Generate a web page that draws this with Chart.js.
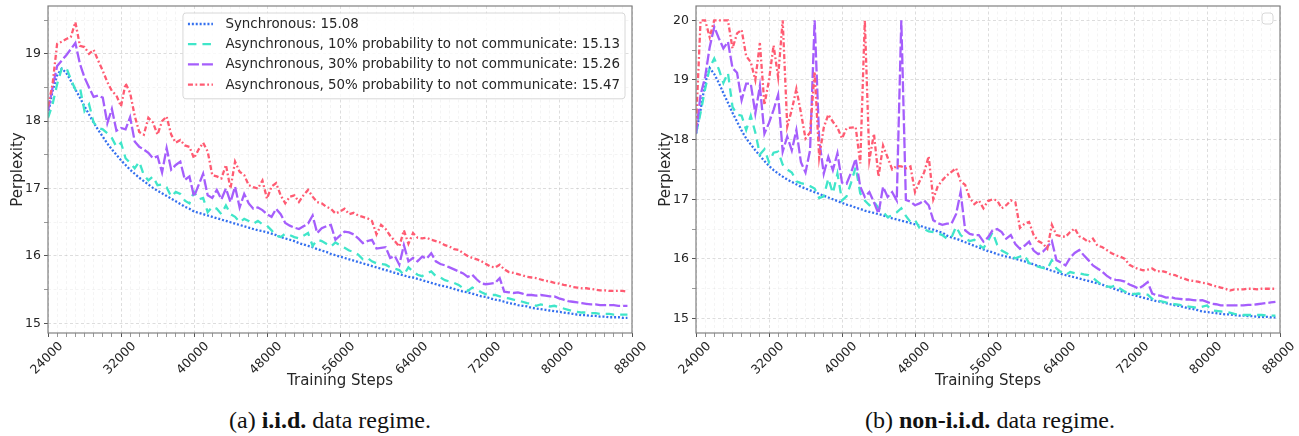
<!DOCTYPE html>
<html><head><meta charset="utf-8">
<script src="https://cdn.jsdelivr.net/npm/chart.js@4.4.1/dist/chart.umd.min.js"></script>
<style>
html,body{margin:0;padding:0;background:#fff;width:1299px;height:436px;overflow:hidden}
.box{position:absolute;top:0;width:650px;height:400px}
.cap{position:absolute;top:405px;font-family:"Liberation Serif","Times New Roman",serif;font-size:24px;color:#111;transform:translateX(-50%);white-space:nowrap;line-height:31px}
</style></head><body>
<div class="box" style="left:0"><canvas id="c1" width="650" height="400"></canvas></div>
<div class="box" style="left:648px"><canvas id="c2" width="650" height="400"></canvas></div>
<div class="cap" style="left:330px">(a) <b>i.i.d.</b> data regime.</div>
<div class="cap" style="left:990px">(b) <b>non-i.i.d.</b> data regime.</div>
<script>
// ---- categories (training steps, every 500 steps from 24000 to 87500) ----
const steps = Array.from({length:128}, (_, i) => 24000 + 500 * i);
const xMajorTicks = [24000, 32000, 40000, 48000, 56000, 64000, 72000, 80000, 88000];
const yMajorTicksLeft = [15, 16, 17, 18, 19];
const yMajorTicksRight = [15, 16, 17, 18, 19, 20];
const seriesNames = ['Synchronous', 'Asynchronous, 10% probability to not communicate',
  'Asynchronous, 30% probability to not communicate', 'Asynchronous, 50% probability to not communicate'];
const finalScores = ['15.08', '15.13', '15.26', '15.47'];

// ---- (a) i.i.d. ----
const iidSync = [18.10,18.45,18.68,18.78,18.72,18.60,18.47,18.35, 18.22,18.10,17.98,17.87,17.77,17.67,17.58,17.50,
 17.42,17.35,17.28,17.22,17.16,17.11,17.06,17.01, 16.97,16.93,16.89,16.85,16.81,16.77,16.73,16.70,
 16.66,16.64,16.62,16.60,16.58,16.56,16.54,16.52, 16.50,16.48,16.46,16.44,16.42,16.40,16.38,16.37,
 16.35,16.33,16.31,16.28,16.26,16.24,16.22,16.19, 16.17,16.15,16.13,16.10,16.08,16.06,16.03,16.01,
 15.99,15.97,15.95,15.93,15.91,15.89,15.87,15.85, 15.83,15.81,15.79,15.77,15.75,15.73,15.71,15.69,
 15.68,15.66,15.64,15.62,15.60,15.58,15.56,15.55, 15.53,15.51,15.49,15.47,15.46,15.44,15.42,15.40,
 15.39,15.37,15.35,15.34,15.32,15.30,15.29,15.27, 15.26,15.25,15.23,15.22,15.21,15.20,15.19,15.18,
 15.17,15.16,15.15,15.14,15.13,15.12,15.12,15.11, 15.11,15.10,15.10,15.09,15.09,15.09,15.08,15.08];
const iidAsync10 = [18.05,18.25,18.55,18.78,18.80,18.62,18.47,18.50, 18.15,18.25,17.98,17.90,17.88,17.82,17.75,17.62,
 17.68,17.45,17.38,17.30,17.40,17.20,17.12,17.18, 17.05,17.06,17.02,16.88,16.95,16.92,16.82,16.78,
 16.95,16.84,16.86,16.65,16.73,16.70,16.62,16.75, 16.62,16.58,16.50,16.55,16.52,16.48,16.52,16.47,
 16.45,16.38,16.30,16.28,16.33,16.31,16.28,16.26, 16.30,16.34,16.15,16.24,16.22,16.18,16.14,16.20,
 16.16,16.12,16.08,16.06,16.02,15.95,15.97,15.92, 15.89,15.88,15.87,15.83,15.81,15.79,15.72,15.83,
 15.77,15.72,15.70,15.74,15.77,15.70,15.68,15.64, 15.62,15.60,15.57,15.52,15.48,15.53,15.50,15.46,
 15.43,15.42,15.42,15.40,15.38,15.37,15.35,15.34, 15.32,15.30,15.29,15.26,15.28,15.27,15.25,15.26,
 15.24,15.22,15.20,15.18,15.17,15.16,15.16,15.15, 15.15,15.14,15.14,15.14,15.13,15.13,15.13,15.13];
const iidAsync30 = [18.15,18.50,18.82,18.90,18.98,19.07,19.16,18.85, 18.65,18.50,18.36,18.38,18.35,17.97,18.18,17.86,
 17.90,17.88,18.06,17.70,17.62,17.58,17.53,17.45, 17.48,17.24,17.60,17.28,17.35,17.40,17.13,17.18,
 16.88,17.05,17.22,16.90,16.86,16.98,16.84,17.00, 16.80,17.03,16.72,16.92,16.78,16.70,16.72,16.68,
 16.62,16.58,16.70,16.62,16.49,16.45,16.42,16.40, 16.44,16.48,16.60,16.34,16.41,16.44,16.46,16.24,
 16.30,16.36,16.35,16.32,16.26,16.19,16.22,16.24, 16.11,16.12,16.13,15.97,16.00,15.87,16.16,15.92,
 15.97,15.92,15.99,15.96,16.04,15.92,15.88,15.86, 15.83,15.80,15.77,15.74,15.69,15.72,15.65,15.59,
 15.58,15.59,15.60,15.67,15.47,15.46,15.45,15.46, 15.44,15.42,15.42,15.41,15.42,15.41,15.40,15.40,
 15.37,15.35,15.33,15.32,15.31,15.30,15.29,15.28, 15.28,15.27,15.27,15.27,15.27,15.26,15.26,15.26];
const iidAsync50 = [18.22,18.55,19.15,19.18,19.22,19.25,19.47,19.12, 19.10,19.00,19.06,18.90,18.75,18.58,18.45,18.38,
 18.22,18.56,18.42,18.08,17.84,17.80,18.05,17.98, 17.80,18.00,18.07,17.80,17.68,17.72,17.64,17.62,
 17.45,17.58,17.68,17.55,17.20,17.18,17.15,17.35, 17.00,17.40,17.25,17.20,17.05,17.02,17.00,17.12,
 16.85,17.03,17.08,16.90,16.78,16.88,16.90,16.80, 16.90,16.98,16.88,16.80,16.78,16.73,16.70,16.63,
 16.66,16.70,16.62,16.64,16.60,16.58,16.56,16.52, 16.32,16.46,16.40,16.30,16.22,16.14,16.38,16.18,
 16.34,16.27,16.26,16.27,16.24,16.22,16.20,16.16, 16.14,16.10,16.09,16.04,16.00,15.97,15.95,15.92,
 15.88,15.84,15.83,15.87,15.80,15.76,15.75,15.73, 15.71,15.69,15.68,15.67,15.65,15.63,15.62,15.60,
 15.59,15.57,15.56,15.54,15.53,15.52,15.52,15.51, 15.50,15.49,15.49,15.48,15.48,15.48,15.48,15.47];

// ---- (b) non-i.i.d. ----
const nonIidSync = [18.10,18.50,18.95,19.20,19.10,18.95,18.78,18.62, 18.45,18.30,18.15,18.02,17.92,17.82,17.73,17.64,
 17.56,17.49,17.43,17.38,17.33,17.29,17.25,17.21, 17.18,17.15,17.12,17.09,17.06,17.03,17.00,16.97,
 16.94,16.91,16.89,16.86,16.84,16.81,16.79,16.77, 16.75,16.73,16.70,16.68,16.66,16.64,16.62,16.60,
 16.58,16.56,16.53,16.51,16.49,16.46,16.44,16.39, 16.36,16.34,16.31,16.28,16.25,16.22,16.19,16.16,
 16.13,16.11,16.08,16.06,16.04,16.02,16.00,15.98, 15.96,15.93,15.91,15.88,15.86,15.83,15.80,15.78,
 15.75,15.73,15.71,15.69,15.67,15.65,15.63,15.61, 15.59,15.57,15.54,15.52,15.49,15.46,15.44,15.41,
 15.39,15.37,15.35,15.33,15.31,15.29,15.28,15.26, 15.24,15.22,15.21,15.19,15.17,15.16,15.14,15.12,
 15.11,15.10,15.09,15.08,15.07,15.07,15.06,15.05, 15.05,15.04,15.04,15.03,15.03,15.03,15.02,15.02];
const nonIidAsync10 = [18.10,18.45,18.85,19.20,19.36,19.18,18.95,19.12, 18.55,18.42,18.40,18.16,18.40,18.12,17.75,17.84,
 17.62,17.78,17.80,17.58,17.50,17.45,17.30,17.27, 17.25,17.22,17.18,17.02,17.05,17.35,17.10,17.43,
 16.98,17.05,17.28,17.54,17.10,16.98,16.90,16.96, 16.85,16.79,16.70,16.73,16.78,16.85,16.72,16.62,
 16.65,16.52,16.50,16.46,16.45,16.43,16.40,16.34, 16.36,16.54,16.40,16.34,16.30,16.32,16.24,16.18,
 16.30,16.45,16.24,16.14,16.10,16.05,16.01,16.04, 16.06,15.93,15.90,15.87,15.85,15.83,15.98,15.84,
 15.78,15.73,15.78,15.76,15.76,15.74,15.73,15.68, 15.62,15.56,15.54,15.53,15.56,15.50,15.45,15.43,
 15.41,15.42,15.41,15.40,15.33,15.30,15.29,15.27, 15.26,15.24,15.23,15.21,15.20,15.19,15.18,15.20,
 15.22,15.14,15.13,15.12,15.11,15.10,15.08,15.07, 15.06,15.06,15.06,15.06,15.06,15.05,15.05,15.05];
const nonIidAsync30 = [18.10,18.75,19.05,19.55,19.89,19.70,19.53,19.64, 19.20,19.12,18.66,18.94,18.94,18.44,18.90,18.10,
 18.28,18.50,18.75,17.80,18.05,17.82,18.16,17.62, 17.45,17.82,20.00,18.00,17.43,17.71,17.49,17.77,
 17.28,17.26,17.45,17.68,17.21,17.04,17.12,16.95, 16.76,17.21,17.04,17.12,16.98,20.00,16.99,16.96,
 16.90,16.93,16.98,16.90,16.65,16.60,16.57,16.59, 16.59,16.75,17.12,16.48,16.42,16.40,16.40,16.29,
 16.36,16.48,16.50,16.45,16.34,16.40,16.25,16.17, 16.22,16.29,16.14,16.08,16.12,16.20,16.30,15.98,
 15.94,15.89,16.02,16.10,16.15,16.06,15.98,15.89, 15.84,15.79,15.72,15.67,15.65,15.64,15.62,15.57,
 15.54,15.50,15.55,15.61,15.42,15.39,15.38,15.35, 15.36,15.34,15.33,15.32,15.32,15.31,15.30,15.31,
 15.28,15.25,15.24,15.22,15.22,15.22,15.22,15.22, 15.22,15.23,15.23,15.24,15.25,15.26,15.27,15.28];
const nonIidAsync50 = [18.24,20.00,20.00,19.72,20.00,20.00,20.00,20.00, 19.53,19.78,19.84,19.40,19.30,19.00,19.62,18.58,
 19.00,19.58,19.05,20.00,18.22,18.50,18.85,18.45, 18.02,18.12,19.14,17.70,18.20,18.42,18.30,18.20,
 18.02,18.19,18.20,18.21,17.60,20.00,17.66,18.10, 17.38,17.90,17.70,17.50,17.56,17.55,17.52,17.55,
 17.12,17.30,17.45,17.72,17.00,17.22,17.32,17.40, 17.46,17.52,17.30,17.24,17.02,16.92,16.98,16.85,
 16.97,17.00,16.98,16.85,16.90,16.98,16.95,16.52, 16.59,16.62,16.40,16.30,16.26,16.17,16.57,16.40,
 16.38,16.37,16.45,16.51,16.38,16.34,16.28,16.34, 16.22,16.20,16.15,16.10,16.06,16.04,16.00,15.90,
 15.86,15.83,15.81,15.82,15.84,15.79,15.80,15.78, 15.74,15.73,15.69,15.67,15.64,15.63,15.62,15.60,
 15.59,15.56,15.54,15.52,15.50,15.47,15.49,15.49, 15.49,15.50,15.50,15.49,15.50,15.50,15.50,15.50];

// ---- styles ----
const colors = ['#3470ef', '#40e6c9', '#a55efc', '#ff5b72'];
const dashes = [[2, 1.9], [8.5, 6], [11, 3], [5, 2.5, 1.8, 2.5]];
const FONT = "'DejaVu Sans', sans-serif";
Chart.defaults.font.family = FONT;
Chart.defaults.color = '#262626';
const MAJOR_GRID = 'rgba(0,0,0,0.17)';
const MINOR_GRID = 'rgba(0,0,0,0.06)';

function roundRect(ctx, x, y, w, h, r) {
  ctx.beginPath();
  ctx.moveTo(x + r, y);
  ctx.lineTo(x + w - r, y); ctx.quadraticCurveTo(x + w, y, x + w, y + r);
  ctx.lineTo(x + w, y + h - r); ctx.quadraticCurveTo(x + w, y + h, x + w - r, y + h);
  ctx.lineTo(x + r, y + h); ctx.quadraticCurveTo(x, y + h, x, y + h - r);
  ctx.lineTo(x, y + r); ctx.quadraticCurveTo(x, y, x + r, y);
  ctx.closePath();
}

const framePlugin = {
  id: 'frameLegend',
  afterDraw(chart, args, opts) {
    const {ctx, chartArea: a} = chart;
    ctx.save();
    ctx.setLineDash([]);
    ctx.strokeStyle = '#808080';
    ctx.lineWidth = 1.2;
    ctx.strokeRect(a.left, a.top, a.right - a.left, a.bottom - a.top);
    ctx.font = '13.4px ' + FONT;
    const items = opts.showItems ? chart.data.datasets : [];
    let maxW = 0;
    items.forEach(d => { maxW = Math.max(maxW, ctx.measureText(d.legendText).width); });
    const pad = 5, handle = 25, gap = 12.5, rowH = 20.2;
    const w = items.length ? pad + handle + gap + maxW + pad : 11;
    const h = items.length ? rowH * items.length + 5 : 11;
    const x = a.right - 7 - w, y = a.top + 7;
    roundRect(ctx, x, y, w, h, 3);
    ctx.fillStyle = 'rgba(255,255,255,0.8)';
    ctx.fill();
    ctx.strokeStyle = '#d8d8d8';
    ctx.lineWidth = 1;
    ctx.stroke();
    items.forEach((d, i) => {
      const cy = y + 11 + i * rowH;
      ctx.save();
      ctx.setLineDash(d.borderDash);
      ctx.strokeStyle = d.borderColor;
      ctx.lineWidth = d.borderWidth;
      ctx.beginPath(); ctx.moveTo(x + pad, cy); ctx.lineTo(x + pad + handle, cy); ctx.stroke();
      ctx.restore();
      ctx.fillStyle = '#262626';
      ctx.textBaseline = 'middle';
      ctx.textAlign = 'left';
      ctx.fillText(d.legendText, x + pad + handle + gap, cy + 0.5);
    });
    ctx.restore();
  }
};

function makeChart(id, seriesList, yMin, yMax, yMajor, showItems) {
  const datasets = seriesList.map((vals, k) => ({
    label: seriesNames[k],
    legendText: seriesNames[k] + ': ' + finalScores[k],
    data: steps.map((s, i) => ({x: s, y: vals[i]})),
    borderColor: colors[k],
    backgroundColor: colors[k],
    borderDash: dashes[k],
    borderWidth: 2.3,
    pointRadius: 0,
    tension: 0,
    fill: false,
    order: 4 - k
  }));
  return new Chart(document.getElementById(id), {
    type: 'line',
    data: {datasets},
    plugins: [framePlugin],
    options: {
      responsive: false,
      animation: false,
      events: [],
      layout: {padding: {top: 6, right: 18, left: 0, bottom: 0}},
      plugins: {legend: {display: false}, tooltip: {enabled: false}, frameLegend: {showItems}},
      scales: {
        x: {
          type: 'linear', min: 24000, max: 88000,
          ticks: {
            stepSize: 1000, autoSkip: false, maxRotation: 45, minRotation: 45,
            labelOffset: 13, padding: 2, color: '#262626', font: {size: 12.5},
            callback: v => xMajorTicks.includes(v) ? String(v) : ''
          },
          grid: {
            color: c => (c.tick && xMajorTicks.includes(c.tick.value)) ? MAJOR_GRID : MINOR_GRID,
            lineWidth: 0.8, borderDash: [3, 2.5], tickLength: 4,
            tickColor: c => (c.tick && xMajorTicks.includes(c.tick.value)) ? '#555' : '#999',
            tickBorderDash: [], tickWidth: 1
          },
          border: {display: false, dash: [3, 2.5]},
          title: {display: true, text: 'Training Steps', font: {size: 15}, color: '#262626', padding: {top: 0, bottom: 10}},
          afterFit(s) { s.height = 67; s.paddingLeft = 0; s.paddingRight = 0; }
        },
        y: {
          min: yMin, max: yMax,
          ticks: {
            stepSize: 0.5, includeBounds: false, autoSkip: false, padding: 3, color: '#262626', font: {size: 12.5},
            callback: v => yMajor.includes(v) ? String(v) : ''
          },
          grid: {
            color: c => (c.tick && yMajor.includes(c.tick.value)) ? MAJOR_GRID : MINOR_GRID,
            lineWidth: 0.8, borderDash: [3, 2.5], tickLength: 4,
            tickColor: c => (c.tick && yMajor.includes(c.tick.value)) ? '#555' : '#999',
            tickBorderDash: [], tickWidth: 1
          },
          border: {display: false, dash: [3, 2.5]},
          title: {display: true, text: 'Perplexity', font: {size: 15}, color: '#262626', padding: {top: 9, bottom: 0}},
          afterFit(s) { s.width = 48; s.paddingTop = 0; s.paddingBottom = 0; }
        }
      }
    }
  });
}

makeChart('c1', [iidSync, iidAsync10, iidAsync30, iidAsync50], 14.856, 19.71, yMajorTicksLeft, true);
makeChart('c2', [nonIidSync, nonIidAsync10, nonIidAsync30, nonIidAsync50], 14.758, 20.24, yMajorTicksRight, false);
</script>
</body></html>
